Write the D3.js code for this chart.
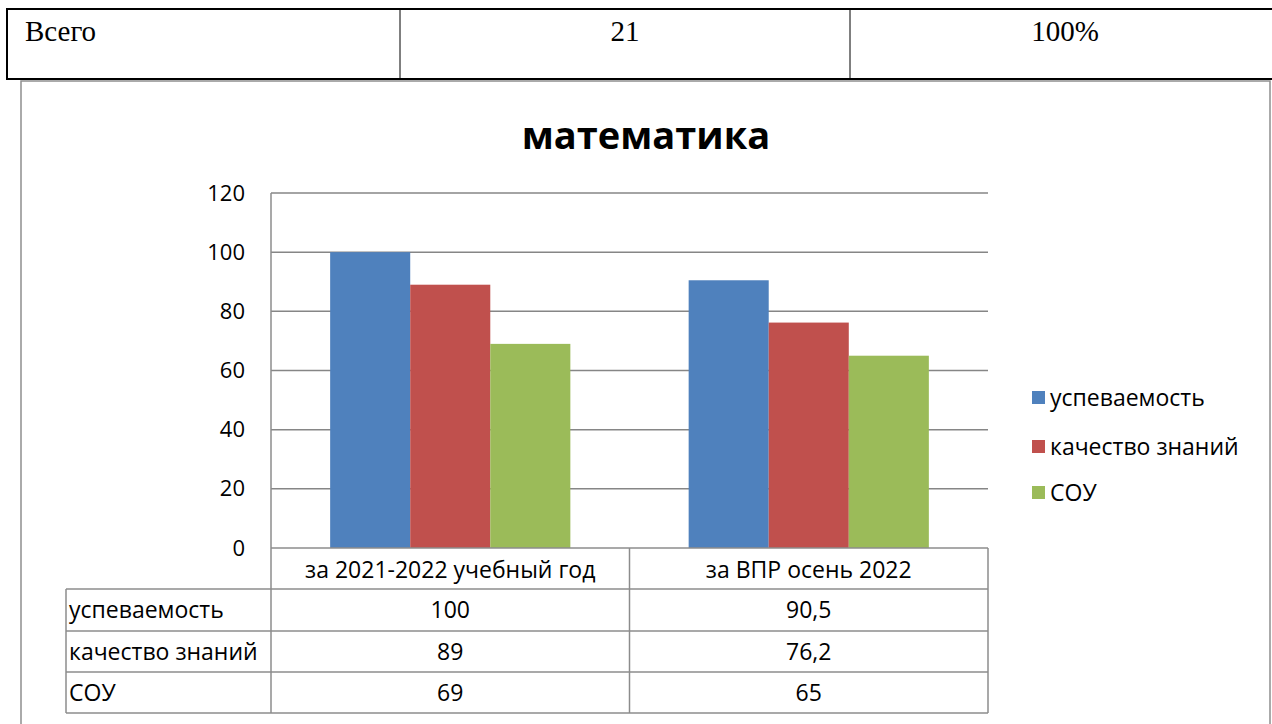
<!DOCTYPE html>
<html>
<head>
<meta charset="utf-8">
<script src="https://cdn.jsdelivr.net/npm/d3@7"></script>
<style>
  body { margin: 0; background: #fff; }
  svg { display: block; }
</style>
</head>
<body>
<div id="chart"></div>
<script>
// data
var categories = ["за 2021-2022 учебный год", "за ВПР осень 2022"];
var seriesNames = ["успеваемость", "качество знаний", "СОУ"];
var uspevaemost = [100, 90.5];
var kachestvo = [89, 76.2];
var sou = [69, 65];
var yTicks = [0, 20, 40, 60, 80, 100, 120];
var topRow = ["Всего", "21", "100%"];

var seriesValues = [uspevaemost, kachestvo, sou];
var colors = ["#4F81BD", "#C0504D", "#9BBB59"];
function ru(v) { return String(v).replace(".", ","); }

var W = 1272, H = 724;
var font = "'Open Sans', 'DejaVu Sans', sans-serif";

var svg = d3.select("#chart").append("svg")
    .attr("width", W).attr("height", H)
    .style("font-family", font);

// top table row (document table above the chart)
var topTbl = svg.append("g");
topTbl.append("line").attr("x1", 7).attr("x2", W).attr("y1", 9).attr("y2", 9)
    .attr("stroke", "#000").attr("stroke-width", 2);
topTbl.append("line").attr("x1", 7).attr("x2", W).attr("y1", 79).attr("y2", 79)
    .attr("stroke", "#000").attr("stroke-width", 2);
topTbl.append("line").attr("x1", 7).attr("x2", 7).attr("y1", 8).attr("y2", 80)
    .attr("stroke", "#000").attr("stroke-width", 2);
[400, 850].forEach(function(x) {
    topTbl.append("line").attr("x1", x).attr("x2", x).attr("y1", 9).attr("y2", 79)
        .attr("stroke", "#000").attr("stroke-width", 1);
});
var topX = [25, 625, 1065];
topRow.forEach(function(t, i) {
    topTbl.append("text")
        .attr("x", topX[i]).attr("y", 41)
        .attr("text-anchor", i == 0 ? "start" : "middle")
        .style("font-family", "'Liberation Serif', 'DejaVu Serif', serif")
        .style("font-size", "29px")
        .text(t);
});

// chart frame
svg.append("rect")
    .attr("x", 21).attr("y", 81).attr("width", 1249).attr("height", 700)
    .attr("fill", "none").attr("stroke", "#8e8e8e").attr("stroke-width", 1.5);

// title
svg.append("text")
    .attr("x", 646).attr("y", 149)
    .attr("text-anchor", "middle")
    .style("font-size", "38px").style("font-weight", "bold")
    .text("математика");

// scales
var x = d3.scaleBand().domain(categories).range([271, 988]).padding(0);
var xs = d3.scaleBand().domain(seriesNames)
    .range([x.bandwidth() * 0.165, x.bandwidth() * 0.835]).padding(0);
var y = d3.scaleLinear().domain([0, 120]).range([548, 193]);

// gridlines
svg.append("g").selectAll("line")
    .data(yTicks.filter(function(d) { return d > 0; }))
    .enter().append("line")
    .attr("x1", 271).attr("x2", 988)
    .attr("y1", function(d) { return y(d); }).attr("y2", function(d) { return y(d); })
    .attr("stroke", "#868686").attr("stroke-width", 1.5);

// y axis labels
var yAxis = d3.axisLeft(y).tickValues(yTicks).tickSize(0).tickPadding(26);
var ya = svg.append("g").attr("transform", "translate(271,0)").call(yAxis);
ya.select(".domain").remove();
ya.selectAll("text").style("font-family", font).style("font-size", "22px").attr("fill", "#000");

// bars
var groups = svg.append("g").selectAll("g")
    .data(categories).enter().append("g")
    .attr("transform", function(d) { return "translate(" + x(d) + ",0)"; });
groups.selectAll("rect")
    .data(function(c, ci) {
        return seriesNames.map(function(s, si) { return {s: s, i: si, v: seriesValues[si][ci]}; });
    })
    .enter().append("rect")
    .attr("x", function(d) { return xs(d.s); })
    .attr("width", xs.bandwidth())
    .attr("y", function(d) { return y(d.v); })
    .attr("height", function(d) { return y(0) - y(d.v); })
    .attr("fill", function(d) { return colors[d.i]; });

// data table under the plot
var tbl = svg.append("g");
var rowTop = [589, 631, 672];
var rowBot = 713;
var lineC = "#8c8c8c";
function hline(x1, x2, yy) {
    tbl.append("line").attr("x1", x1).attr("x2", x2).attr("y1", yy).attr("y2", yy)
        .attr("stroke", lineC).attr("stroke-width", 1.5);
}
function vline(xx, y1, y2) {
    tbl.append("line").attr("x1", xx).attr("x2", xx).attr("y1", y1).attr("y2", y2)
        .attr("stroke", lineC).attr("stroke-width", 1.5);
}
hline(271, 988, y(0));
rowTop.forEach(function(r) { hline(66, 988, r); });
hline(66, 988, rowBot);
vline(66, rowTop[0], rowBot);
vline(271, 193, rowBot);
vline(x(categories[1]), y(0), rowBot);
vline(988, y(0), rowBot);

// header texts
categories.forEach(function(c) {
    tbl.append("text")
        .attr("x", x(c) + x.bandwidth() / 2).attr("y", 578)
        .attr("text-anchor", "middle")
        .style("font-size", "23px")
        .text(c);
});
seriesNames.forEach(function(s, si) {
    var yy = rowTop[si] + 29;
    tbl.append("text").attr("x", 69).attr("y", yy)
        .style("font-size", "23px").text(s);
    categories.forEach(function(c, ci) {
        tbl.append("text")
            .attr("x", x(c) + x.bandwidth() / 2).attr("y", yy)
            .attr("text-anchor", "middle")
            .style("font-size", "23px")
            .text(ru(seriesValues[si][ci]));
    });
});

// legend
var legY = [398, 447, 493];
var leg = svg.append("g");
seriesNames.forEach(function(s, i) {
    leg.append("rect").attr("x", 1032).attr("y", legY[i] - 7)
        .attr("width", 13).attr("height", 13).attr("fill", colors[i]);
    leg.append("text").attr("x", 1050).attr("y", legY[i] + 8)
        .style("font-size", "23px").text(s);
});
</script>
</body>
</html>
